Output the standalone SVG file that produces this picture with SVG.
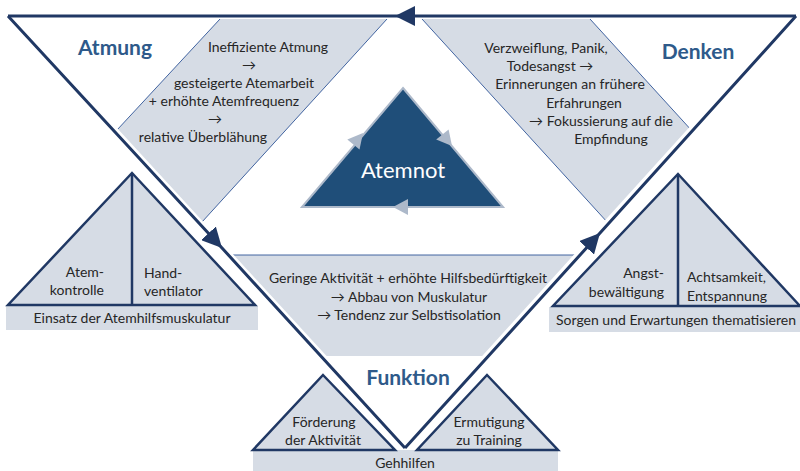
<svg xmlns="http://www.w3.org/2000/svg" width="800" height="471" viewBox="0 0 800 471">
<defs>
<style>
.band{fill:#D6DCE5;stroke:none}
.thin{fill:none;stroke:#2F5597;stroke-width:0.9}
.tri{fill:#D6DCE5;stroke:#203864;stroke-width:2.5;stroke-linejoin:miter}
.div{stroke:#203864;stroke-width:2.5}
.t{font-family:Lato,"Liberation Sans","DejaVu Sans",sans-serif;font-size:14px;fill:#262626}
.c{text-anchor:middle}
.r{text-anchor:end}
.title{font-family:Lato,"Liberation Sans",sans-serif;font-size:21px;font-weight:bold;fill:#2E5A8A;text-anchor:middle}
.halo{fill:none;stroke:#FFFFFF;stroke-width:9}
.edge{fill:none;stroke:#203864;stroke-width:3;stroke-linejoin:miter}
.cyc{fill:#ADB9CA}
</style>
<marker id="head" markerUnits="userSpaceOnUse" markerWidth="20" markerHeight="20" viewBox="0 0 18 18" refX="18" refY="9" orient="auto">
<path d="M0,0 L18,9 L0,18 Z" fill="#203864"/>
</marker>
</defs>
<rect x="0" y="0" width="800" height="471" fill="#FFFFFF"/>

<g id="atmung-band">
<polygon class="band" points="220,19 387,19 202,222 117,130"/>
<line class="thin" x1="220" y1="19" x2="117" y2="130"/>
<line class="thin" x1="387" y1="19" x2="202" y2="222"/>
</g>
<g id="denken-band">
<polygon class="band" points="422,19 590,19 693,132 608,223"/>
<line class="thin" x1="422" y1="19" x2="608" y2="223"/>
<line class="thin" x1="590" y1="19" x2="693" y2="132"/>
</g>
<g id="funktion-band">
<polygon class="band" points="228,255 581,255 488,356 320,356"/>
<line class="thin" x1="228" y1="255" x2="581" y2="255"/>
</g>

<g id="connectors">
<polyline class="halo" points="8,16 405,448 796,16"/>
<path class="edge" d="M796,16 L395,16 L8,16" marker-mid="url(#head)"/>
<path class="edge" d="M8,16 L222,248 L405,448" marker-mid="url(#head)"/>
<path class="edge" d="M405,448 L600,233 L796,16" marker-mid="url(#head)"/>
</g>

<g id="atmung-text">
<text class="title" x="115" y="55">Atmung</text>
<text class="t c" x="268" y="52">Ineffiziente Atmung</text>
<text class="t c" x="249" y="70">→</text>
<text class="t c" x="244" y="88">gesteigerte Atemarbeit</text>
<text class="t c" x="224" y="106">+ erhöhte Atemfrequenz</text>
<text class="t c" x="215" y="124">→</text>
<text class="t c" x="203" y="142">relative Überblähung</text>
</g>

<g id="denken-text">
<text class="title" x="698" y="59">Denken</text>
<text class="t c" x="546" y="53">Verzweiflung, Panik,</text>
<text class="t c" x="550" y="71">Todesangst →</text>
<text class="t c" x="570" y="89">Erinnerungen an frühere</text>
<text class="t c" x="584" y="108">Erfahrungen</text>
<text class="t c" x="601" y="126">→ Fokussierung auf die</text>
<text class="t c" x="611" y="144">Empfindung</text>
</g>

<g id="funktion-text">
<text class="t c" x="408" y="283">Geringe Aktivität + erhöhte Hilfsbedürftigkeit</text>
<text class="t c" x="409" y="302">→ Abbau von Muskulatur</text>
<text class="t c" x="409" y="320">→ Tendenz zur Selbstisolation</text>
<text class="title" x="408" y="385">Funktion</text>
</g>

<g id="atemnot">
<polygon points="403,88 503,207 302,207" fill="#1F4E79" stroke="#ADB9CA" stroke-width="2"/>
<polygon class="cyc" points="363,133 359.5,149.6 347.3,139.4"/>
<polygon class="cyc" points="452,146 448.6,129.4 436.2,139.6"/>
<polygon class="cyc" points="393,207 408,199 408,215"/>
<text x="403" y="177.5" text-anchor="middle" font-family="Lato,'Liberation Sans',sans-serif" font-size="22" fill="#FFFFFF">Atemnot</text>
</g>

<g id="atemhilfe">
<rect class="band" x="6" y="306" width="252" height="24"/>
<polygon class="tri" points="132,173 255,305 8,305"/>
<line class="div" x1="132" y1="173" x2="132" y2="305"/>
<text class="t r" x="104" y="277">Atem-</text>
<text class="t r" x="104" y="295">kontrolle</text>
<text class="t" x="144" y="278">Hand-</text>
<text class="t" x="144" y="296">ventilator</text>
<text class="t c" x="132" y="323">Einsatz der Atemhilfsmuskulatur</text>
</g>

<g id="sorgen">
<rect class="band" x="549" y="307" width="251" height="25"/>
<polygon class="tri" points="678,174 800,306 553,306"/>
<line class="div" x1="678" y1="174" x2="678" y2="306"/>
<text class="t r" x="664" y="278">Angst-</text>
<text class="t r" x="664" y="297">bewältigung</text>
<text class="t" x="687" y="282">Achtsamkeit,</text>
<text class="t" x="687" y="301">Entspannung</text>
<text class="t c" x="676" y="325">Sorgen und Erwartungen thematisieren</text>
</g>

<g id="gehhilfen">
<rect class="band" x="253" y="450" width="305" height="21"/>
<polygon class="tri" points="323,375 395,450 253,450"/>
<polygon class="tri" points="487,375 558,450 417,450"/>
<text class="t c" x="324" y="427">Förderung</text>
<text class="t c" x="323" y="445">der Aktivität</text>
<text class="t c" x="489" y="427">Ermutigung</text>
<text class="t c" x="489" y="445">zu Training</text>
<text class="t c" x="405" y="468">Gehhilfen</text>
</g>
</svg>
